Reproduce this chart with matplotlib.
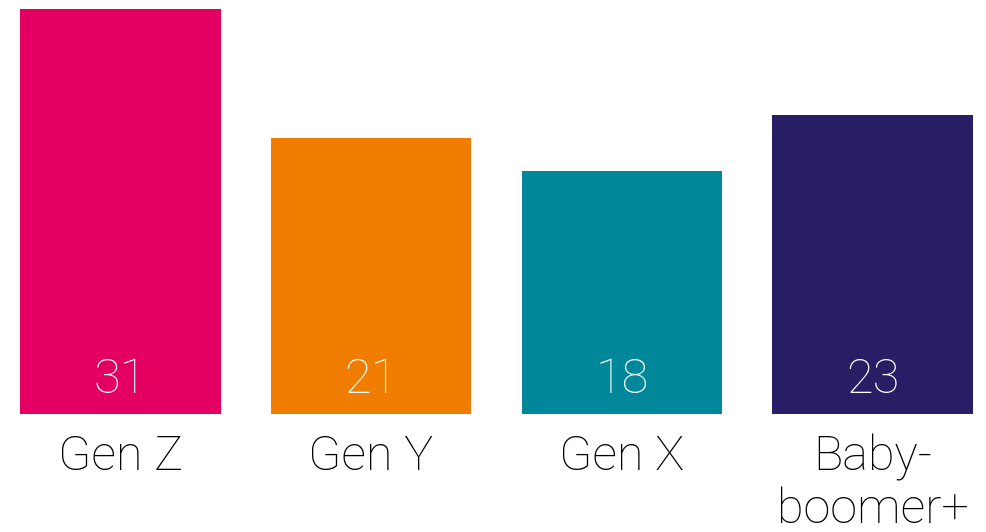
import matplotlib
matplotlib.use("Agg")
import matplotlib.pyplot as plt
from matplotlib import font_manager as fm
import matplotlib.transforms as mtransforms

categories = ["Gen Z", "Gen Y", "Gen X", "Baby-\nboomer+"]
values = [31, 21.1, 18.6, 22.9]
value_labels = ["31", "21", "18", "23"]
colors = ["#E30062", "#F07D00", "#008799", "#271E66"]

plt.rcParams['font.family'] = ['Roboto', 'DejaVu Sans']

fig = plt.figure(figsize=(9.86, 5.32), dpi=100)
W, H = 986, 532
ax = fig.add_axes([20 / W, (H - 414) / H, 953 / W, 405 / H])
x = list(range(len(categories)))
ax.bar(x, values, width=0.8, color=colors)
ax.set_xlim(-0.4, 3.4)
ax.set_ylim(0, 31)
ax.axis("off")

for xi, lab in zip(x, value_labels):
    ax.text(xi, 1.6, lab, ha="center", va="baseline", color="white",
            fontsize=35, fontweight="light")

trans = mtransforms.blended_transform_factory(ax.transData, fig.transFigure)
for xi, cat in zip(x, categories):
    ax.text(xi, (H - 434) / H, cat, ha="center", va="top", color="black",
            fontsize=35, fontweight="light", transform=trans, linespacing=1.15)

fig.savefig("out.png", dpi=100)
